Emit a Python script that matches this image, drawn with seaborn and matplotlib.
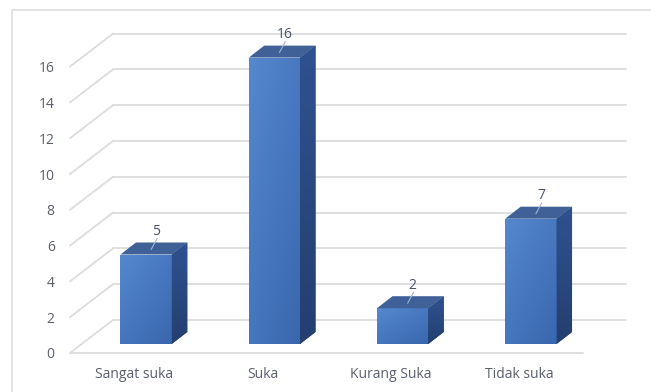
import numpy as np
import pandas as pd
import seaborn as sns
import matplotlib
matplotlib.use("Agg")
import matplotlib.pyplot as plt
from matplotlib.patches import Polygon, Rectangle
from matplotlib.colors import to_rgb

# Survey answers and their counts
categories = ["Sangat suka", "Suka", "Kurang Suka", "Tidak suka"]
counts = [5, 16, 2, 7]
y_ticks = [0, 2, 4, 6, 8, 10, 12, 14, 16]

sns.set_theme(style="white")
plt.rcParams["font.family"] = ["Open Sans", "DejaVu Sans"]

W, H, DPI = 651, 392, 100
fig = plt.figure(figsize=(W / DPI, H / DPI), dpi=DPI)
fig.patch.set_facecolor("white")

# Axes = the front plane of the 3-D box
ax_left, ax_right, ax_base = 70, 583, 353
ax = fig.add_axes([ax_left / W, (H - ax_base) / H, (ax_right - ax_left) / W, ax_base / H])
px_per_unit = 17.9
XLIM = (-0.5, 3.5)
YLIM = (0, ax_base / px_per_unit)

df = pd.DataFrame({"kategori": categories, "jumlah": counts})
sns.barplot(data=df, x="kategori", y="jumlah", width=0.4, color="#4a7cc4",
            saturation=1, ax=ax, zorder=5, linewidth=0, errorbar=None)
ax.set_xlim(*XLIM)
ax.set_ylim(*YLIM)

sx = (ax_right - ax_left) / 4.0     # px per category
sy = px_per_unit                    # px per unit value

def d(px_x, px_y):
    return px_x / sx, px_y / sy

# depth geometry (pixels)
wall_dx, wall_dy = 43, 33     # back wall offset
front_dx, front_dy = 12, 9    # bar front face offset from the front plane
bar_dx, bar_dy = 15.5, 12     # bar depth

grid_c = "#dcdcdc"
wx, wy = d(wall_dx, wall_dy)
for v in y_ticks:
    ax.plot([-0.5, -0.5 + wx], [v, v + wy], color=grid_c, lw=1.3, clip_on=False, zorder=1)
    ax.plot([-0.5 + wx, 3.5 + wx], [v + wy, v + wy], color=grid_c, lw=1.3, clip_on=False, zorder=1)
ax.plot([-0.5, 3.5], [0, 0], color=grid_c, lw=1.3, clip_on=False, zorder=1)

fdx, fdy = d(front_dx, front_dy)
bdx, bdy = d(bar_dx, bar_dy)

def gradient(c1, c2, n=64, diag=True):
    a = np.array(to_rgb(c1)); b = np.array(to_rgb(c2))
    yy, xx = np.mgrid[0:1:n * 1j, 0:1:n * 1j]
    t = (0.55 * yy + 0.45 * xx) if diag else yy
    return a[None, None, :] * (1 - t[..., None]) + b[None, None, :] * t[..., None]

front_grad = gradient("#5588cf", "#3967ae")
side_grad = gradient("#2e5290", "#243f70", diag=False)

for p in list(ax.patches):
    x0, w, h = p.get_x(), p.get_width(), p.get_height()
    x0 += fdx
    y0 = fdy
    p.set_x(x0)
    p.set_y(y0)
    p.set_clip_on(False)
    im = ax.imshow(front_grad, extent=[x0, x0 + w, y0, y0 + h], aspect="auto",
                   zorder=5, interpolation="bilinear")
    im.set_clip_path(p)
    # right side face
    side = Polygon([(x0 + w, y0), (x0 + w + bdx, y0 + bdy), (x0 + w + bdx, y0 + h + bdy),
                    (x0 + w, y0 + h)], closed=True, facecolor="#2a4b82", edgecolor="none",
                   zorder=5, clip_on=False)
    ax.add_patch(side)
    im2 = ax.imshow(side_grad, extent=[x0 + w, x0 + w + bdx, y0, y0 + h + bdy], aspect="auto",
                    zorder=5, interpolation="bilinear")
    im2.set_clip_path(side)
    # top face
    top = Polygon([(x0, y0 + h), (x0 + w, y0 + h), (x0 + w + bdx, y0 + h + bdy),
                   (x0 + bdx, y0 + h + bdy)], closed=True, facecolor="#3f6198",
                  edgecolor="none", zorder=6, clip_on=False)
    ax.add_patch(top)
    # value label with a short leader line
    cx = x0 + w / 2
    lx = cx + 10 / sx
    ly = y0 + h + bdy + 11 / sy
    ax.text(lx, ly, f"{int(round(h))}", ha="center", va="center", fontsize=10,
            color="#44546a", zorder=8)
    ax.plot([lx + 1 / sx, cx + 5 / sx], [ly - 7 / sy, y0 + h + bdy / 2 - 1 / sy],
            color="#a4b5d0", lw=0.8, zorder=7, clip_on=False)

ax.set_xlim(*XLIM)
ax.set_ylim(*YLIM)
ax.set_xlabel("")
ax.set_ylabel("")
ax.set_yticks(y_ticks)
ax.set_yticklabels([str(v) for v in y_ticks])
ax.tick_params(axis="y", length=0, pad=11, labelsize=10, labelcolor="#595f6b")
ax.tick_params(axis="x", length=0, pad=10, labelsize=10, labelcolor="#595f6b")
for s in ax.spines.values():
    s.set_visible(False)
ax.set_facecolor("none")
ax.grid(False)

# chart area border
fig.patches.append(Rectangle((12 / W, -0.1), 1.2, (H - 10) / H + 0.1, transform=fig.transFigure,
                             fill=False, edgecolor="#dedede", lw=1.2, zorder=0))

fig.savefig("out.png", dpi=DPI)
